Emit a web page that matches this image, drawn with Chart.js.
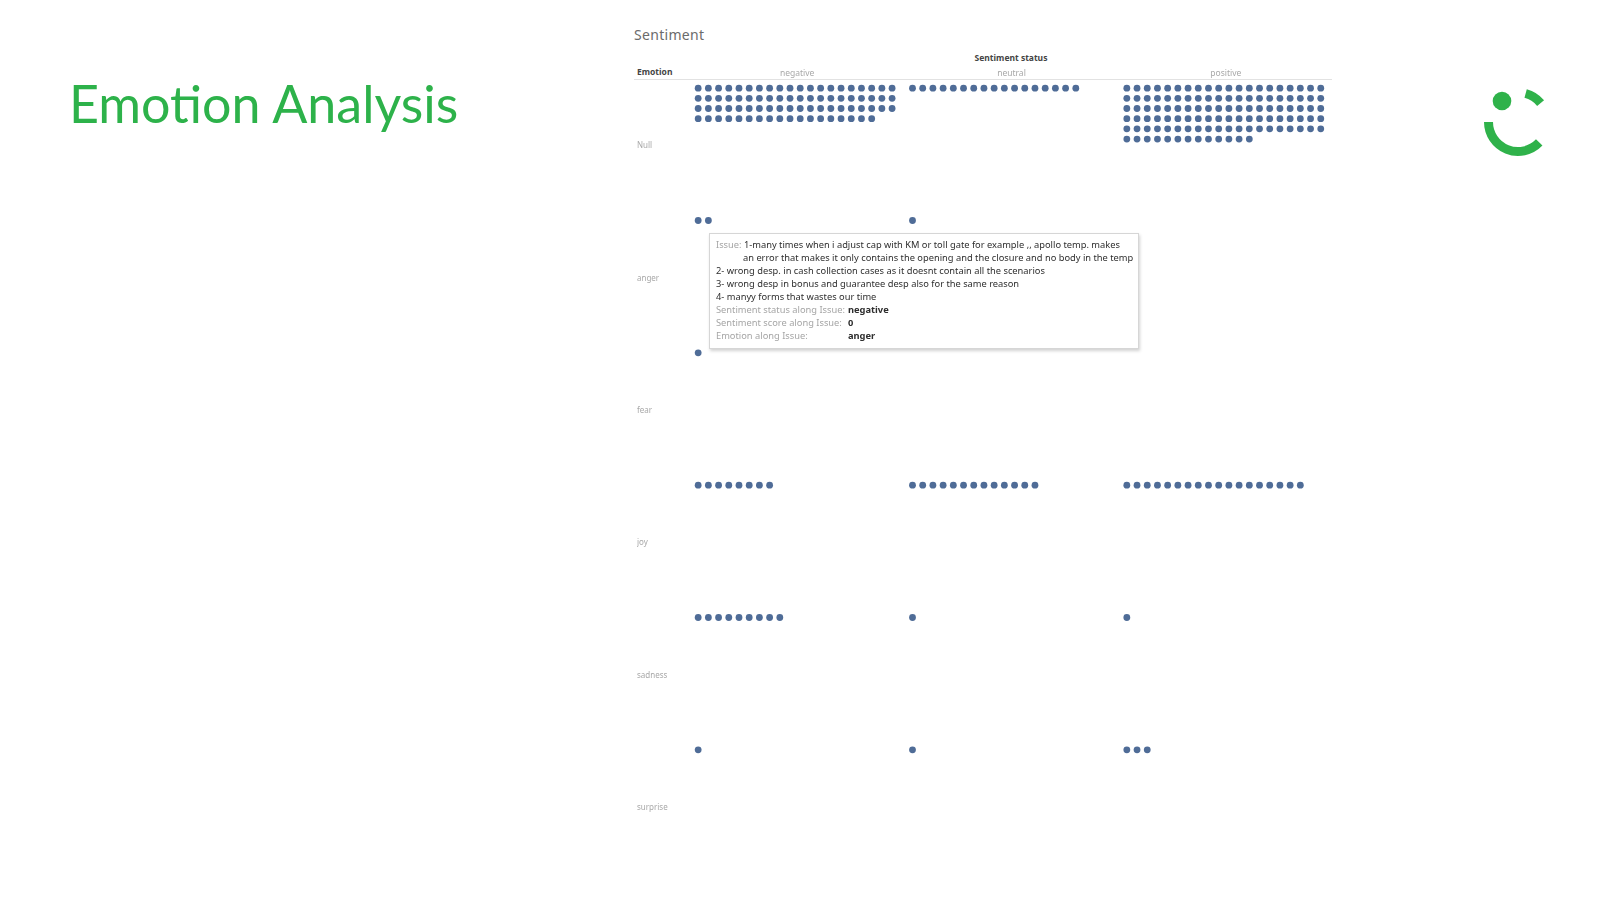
<!DOCTYPE html>
<html>
<head>
<meta charset="utf-8">
<script src="https://cdn.jsdelivr.net/npm/chart.js@4/dist/chart.umd.min.js"></script>
<style>
  html, body { margin: 0; padding: 0; background: #fff; }
  body { width: 1600px; height: 900px; position: relative; overflow: hidden; font-family: "Noto Sans", sans-serif; }
  #title { position: absolute; left: 69px; top: 72px; font-family: Lato, sans-serif; font-size: 52px; color: #2db24a; white-space: nowrap; }
  #sheet { position: absolute; left: 634px; top: 25px; font-size: 14px; color: #6b6b6b; letter-spacing: 0.3px; }
  #status { position: absolute; left: 1011px; top: 52px; transform: translateX(-50%); font-size: 8.5px; font-weight: bold; color: #444; }
  #emo { position: absolute; left: 637px; top: 66px; font-size: 8.5px; font-weight: bold; color: #444; }
  #rule { position: absolute; left: 634px; top: 79px; width: 698px; height: 1px; background: #e2e2e2; }
  #chartBox { position: absolute; left: 637px; top: 40px; }
  #tip { position: absolute; left: 709px; top: 233px; width: 430px; height: 116px; background: #fff;
         border: 1px solid #d6d6d6; box-shadow: 1px 2px 3px rgba(0,0,0,0.18);
         font-size: 9.3px; line-height: 13px; color: #2e2e2e; box-sizing: border-box; padding: 4px 0 0 6px; }
  #tip .l { white-space: nowrap; position: relative; }
  #tip .g { color: #a5a5a5; }
  #tip .v { position: absolute; left: 132px; color: #2e2e2e; font-weight: bold; }
  #tip .ind { padding-left: 27px; }
  #logo { position: absolute; left: 1460px; top: 80px; }
</style>
</head>
<body>
<div id="title">Emotion Analysis</div>
<div id="sheet">Sentiment</div>
<div id="status">Sentiment status</div>
<div id="emo">Emotion</div>
<div id="rule"></div>
<div id="chartBox"><canvas id="dotChart" width="703" height="850"></canvas></div>

<div id="tip">
  <div class="l"><span class="g">Issue:</span> 1-many times when i adjust cap with KM or toll gate for example ,, apollo temp. makes</div>
  <div class="l ind">an error that makes it only contains the opening and the closure and no body in the temp</div>
  <div class="l">2- wrong desp. in cash collection cases as it doesnt contain all the scenarios</div>
  <div class="l">3- wrong desp in bonus and guarantee desp also for the same reason</div>
  <div class="l">4- manyy forms that wastes our time</div>
  <div class="l"><span class="g">Sentiment status along Issue:</span><span class="v">negative</span></div>
  <div class="l"><span class="g">Sentiment score along Issue:</span><span class="v">0</span></div>
  <div class="l"><span class="g">Emotion along Issue:</span><span class="v">anger</span></div>
</div>

<svg id="logo" width="100" height="90" viewBox="1460 80 100 90">
  <circle cx="1502" cy="101" r="9.3" fill="#2fb24a"/>
  <path id="smile" fill="#2fb24a"/>
  <path id="wedge" fill="#2fb24a"/>
</svg>

<script>
const emotions = ["Null", "anger", "fear", "joy", "sadness", "surprise"];
const sentiments = ["negative", "neutral", "positive"];
const negativeCounts = [78, 2, 1, 8, 9, 1];
const neutralCounts = [17, 1, 0, 13, 1, 1];
const positiveCounts = [113, 0, 0, 18, 1, 3];

// layout of the dot grid (units = one dot step)
const dotsPerRow = 20;
const colUnits = 21;
const rowUnits = 13;
const inset = 0.8;

function dots(counts, col) {
  const pts = [];
  counts.forEach((n, e) => {
    for (let i = 0; i < n; i++) {
      pts.push({
        x: col * colUnits + inset + (i % dotsPerRow),
        y: e * rowUnits + inset + Math.floor(i / dotsPerRow)
      });
    }
  });
  return pts;
}

const dotColor = "#4f6c97";
const allCounts = [negativeCounts, neutralCounts, positiveCounts];

new Chart(document.getElementById("dotChart"), {
  type: "scatter",
  data: {
    datasets: sentiments.map((s, k) => ({
      label: s,
      data: dots(allCounts[k], k),
      pointRadius: 3.4,
      pointBackgroundColor: dotColor,
      pointBorderWidth: 0,
    })),
  },
  options: {
    responsive: false,
    devicePixelRatio: 1,
    animation: false,
    layout: { autoPadding: false, padding: { left: 0, top: 0, right: 7, bottom: 16 } },
    plugins: { legend: { display: false }, tooltip: { enabled: false } },
    scales: {
      x: {
        position: "top",
        min: 0,
        max: sentiments.length * colUnits,
        grid: { display: false, drawTicks: false },
        border: { display: false },
        afterBuildTicks: (sc) => { sc.ticks = sentiments.map((s, k) => ({ value: k * colUnits + colUnits / 2 })); },
        afterFit: (sc) => { sc.height = 40; },
        ticks: {
          padding: 1,
          maxRotation: 0,
          autoSkip: false,
          color: "#a8a8a8",
          font: { family: "Noto Sans", size: 8.5 },
          callback: (v, i) => sentiments[i],
        },
      },
      y: {
        reverse: true,
        min: 0,
        max: emotions.length * rowUnits,
        grid: { display: false, drawTicks: false },
        border: { display: false },
        afterBuildTicks: (sc) => { sc.ticks = emotions.map((e, k) => ({ value: k * rowUnits + rowUnits / 2 })); },
        afterFit: (sc) => { sc.width = 53; },
        ticks: {
          crossAlign: "far",
          autoSkip: false,
          color: "#a8a8a8",
          font: { family: "Noto Sans", size: 8 },
          callback: (v, i) => emotions[i],
        },
      },
    },
  },
});

// logo ring pieces
function ring(cx, cy, r0, r1, a0, a1) {
  const p = (r, a) => [cx + r * Math.cos(a * Math.PI / 180), cy + r * Math.sin(a * Math.PI / 180)];
  const large = Math.abs(a1 - a0) > 180 ? 1 : 0;
  const [x1, y1] = p(r1, a0), [x2, y2] = p(r1, a1), [x3, y3] = p(r0, a1), [x4, y4] = p(r0, a0);
  return `M${x1} ${y1} A${r1} ${r1} 0 ${large} 1 ${x2} ${y2} L${x3} ${y3} A${r0} ${r0} 0 ${large} 0 ${x4} ${y4} Z`;
}
document.getElementById("smile").setAttribute("d", ring(1518, 122, 25, 34, 44, 180));
document.getElementById("wedge").setAttribute("d", ring(1518, 122, 25, 34, -75, -40));
</script>
</body>
</html>
